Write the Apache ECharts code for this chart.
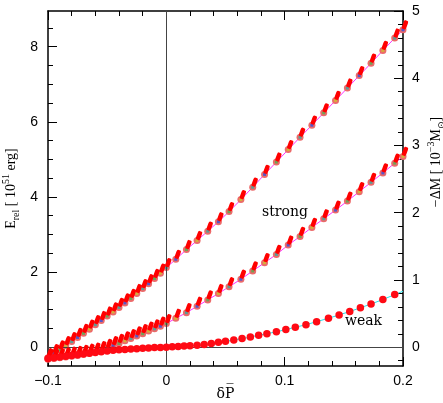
<!DOCTYPE html>
<html>
<head>
<meta charset="utf-8">
<script src="https://cdn.jsdelivr.net/npm/echarts@6/dist/echarts.min.js"></script>
<style>
  html, body { margin: 0; padding: 0; background: #fff; }
  #chart { width: 443px; height: 403px; }
</style>
</head>
<body>
<div id="chart"></div>
<script>
// strong branches: δP̄ positions of the markers
const strongX = [-0.1, -0.095, -0.09, -0.085, -0.08, -0.075, -0.07, -0.065, -0.06, -0.055,
  -0.05, -0.045, -0.04, -0.035, -0.03, -0.025, -0.02, -0.015, -0.01, -0.005,
  0, 0.008, 0.017, 0.026, 0.035, 0.044, 0.053, 0.063, 0.073, 0.083,
  0.093, 0.103, 0.113, 0.123, 0.133, 0.143, 0.153, 0.163, 0.173, 0.183, 0.193, 0.2]
// upper strong branch, E_rel [10^51 erg]
const upperY = [-0.28, -0.17, -0.07, 0.04, 0.15, 0.26, 0.37, 0.48, 0.6, 0.71,
  0.83, 0.94, 1.06, 1.18, 1.3, 1.43, 1.56, 1.69, 1.83, 1.97,
  2.12, 2.34, 2.6, 2.84, 3.09, 3.34, 3.61, 3.93, 4.26, 4.6,
  4.93, 5.26, 5.59, 5.91, 6.24, 6.57, 6.9, 7.23, 7.56, 7.9, 8.23, 8.45]
// lower strong branch
const lowerY = [-0.32, -0.3, -0.28, -0.26, -0.24, -0.22, -0.19, -0.16, -0.13, -0.09,
  -0.03, 0.04, 0.1, 0.17, 0.23, 0.3, 0.36, 0.43, 0.49, 0.56,
  0.63, 0.77, 0.92, 1.09, 1.26, 1.43, 1.61, 1.81, 2.03, 2.25,
  2.47, 2.72, 2.95, 3.19, 3.42, 3.65, 3.89, 4.14, 4.39, 4.64, 4.9, 5.08]
// weak branch (last entry is the end of the line only)
const weakX = [-0.1, -0.095, -0.09, -0.085, -0.08, -0.075, -0.07, -0.065, -0.06, -0.055,
  -0.05, -0.045, -0.04, -0.035, -0.03, -0.025, -0.02, -0.015, -0.01, -0.005,
  0, 0.005, 0.01, 0.015, 0.02, 0.026, 0.032, 0.038, 0.044, 0.05,
  0.057, 0.064, 0.071, 0.078, 0.085, 0.093, 0.101, 0.109, 0.118, 0.127,
  0.137, 0.146, 0.155, 0.164, 0.173, 0.183, 0.193, 0.2]
const weakY = [-0.3, -0.28, -0.26, -0.24, -0.22, -0.2, -0.18, -0.16, -0.14, -0.12,
  -0.1, -0.08, -0.07, -0.06, -0.05, -0.04, -0.03, -0.02, -0.01, -0.01,
  0, 0.01, 0.02, 0.03, 0.04, 0.05, 0.07, 0.1, 0.13, 0.16,
  0.19, 0.23, 0.27, 0.32, 0.36, 0.41, 0.47, 0.53, 0.6, 0.68,
  0.77, 0.86, 0.95, 1.05, 1.15, 1.27, 1.4, 1.49]

// ticks
const xMajor = [-0.1, 0, 0.1, 0.2]
const xMinor = [-0.08, -0.06, -0.04, -0.02, 0.02, 0.04, 0.06, 0.08, 0.12, 0.14, 0.16, 0.18]
const eMajor = [0, 2, 4, 6, 8]
const eMinor = [0.5, 1, 1.5, 2.5, 3, 3.5, 4.5, 5, 5.5, 6.5, 7, 7.5, 8.5]
const mMajor = [0, 1, 2, 3, 4, 5]
const mMinor = [-0.2, 0.2, 0.4, 0.6, 0.8, 1.2, 1.4, 1.6, 1.8, 2.2, 2.4, 2.6, 2.8,
  3.2, 3.4, 3.6, 3.8, 4.2, 4.4, 4.6, 4.8]

const X_MIN = -0.1, X_MAX = 0.2
const E_MIN = -0.5, E_MAX = 8.95
const M_MAX = 5, M_MIN = E_MIN * M_MAX / E_MAX

const pair = (xs, ys) => xs.map((x, i) => [x, ys[i]])
const upper = pair(strongX, upperY)
const lower = pair(strongX, lowerY)
const weak = pair(weakX, weakY)
const strongPts = upper.concat(lower)

const tickFont = { fontFamily: 'Liberation Sans', fontSize: 14, color: '#000' }
const fmt = v => (v < 0 ? '\u2212' + Math.abs(v) : String(v))

// builds one axis carrying either the major (labelled) or minor ticks
const xAx = (pos, ticks, len, labels) => ({
  type: 'value', position: pos, min: X_MIN, max: X_MAX,
  axisLine: { show: labels !== null, onZero: false, lineStyle: { color: '#000', width: 1.5 } },
  axisTick: { inside: true, length: len, customValues: ticks, lineStyle: { color: '#000', width: 1 } },
  axisLabel: labels ? { show: true, customValues: ticks, formatter: fmt, margin: 8, ...tickFont } : { show: false },
  splitLine: { show: false }
})
const yAx = (pos, min, max, ticks, len, labels) => ({
  type: 'value', position: pos, min: min, max: max,
  axisLine: { show: labels !== null, onZero: false, lineStyle: { color: '#000', width: 1.5 } },
  axisTick: { inside: true, length: len, customValues: ticks, lineStyle: { color: '#000', width: 1 } },
  axisLabel: labels ? { show: true, customValues: ticks, formatter: fmt, margin: labels, ...tickFont } : { show: false },
  splitLine: { show: false }
})

const chart = echarts.init(document.getElementById('chart'))

const xAxes = [
  xAx('bottom', xMajor, 9, true),
  xAx('top', xMajor, 9, false),
  xAx('bottom', xMinor, 5, null),
  xAx('top', xMinor, 5, null)
]
xAxes[0].name = '\u03b4P\u0305'
xAxes[0].nameLocation = 'middle'
xAxes[0].nameGap = 21
xAxes[0].nameMoveOverlap = false
xAxes[0].nameTextStyle = { fontFamily: 'DejaVu Serif', fontSize: 14, color: '#000' }

const yAxes = [
  yAx('left', E_MIN, E_MAX, eMajor, 9, 10),
  yAx('right', M_MIN, M_MAX, mMajor, 9, 9),
  yAx('left', E_MIN, E_MAX, eMinor, 5, null),
  yAx('right', M_MIN, M_MAX, mMinor, 5, null)
]
yAxes[0].name = 'E{sub|rel} [ 10{sup|51} erg]'
yAxes[0].nameLocation = 'middle'
yAxes[0].nameGap = 27
yAxes[0].nameMoveOverlap = false
yAxes[0].nameTextStyle = {
  fontFamily: 'Liberation Serif', fontSize: 14, color: '#000', lineHeight: 20,
  rich: {
    sub: { fontFamily: 'Liberation Serif', fontSize: 10, verticalAlign: 'bottom', lineHeight: 12 },
    sup: { fontFamily: 'Liberation Serif', fontSize: 10, verticalAlign: 'top', lineHeight: 12 }
  }
}

const dotSeries = (data, opts) => Object.assign({
  type: 'scatter', data: data, xAxisIndex: 0, yAxisIndex: 0, silent: true, animation: false
}, opts)

chart.setOption({
  animation: false,
  grid: { left: 48, right: 40, top: 11, bottom: 37, containLabel: false, outerBoundsMode: 'none' },
  xAxis: xAxes,
  yAxis: yAxes,
  graphic: [
    {
      type: 'text', x: 262, y: 212,
      style: { text: 'strong', font: '14px "DejaVu Serif"', fill: '#000', verticalAlign: 'middle' }
    },
    {
      type: 'text', x: 345, y: 321,
      style: { text: 'weak', font: '14px "DejaVu Serif"', fill: '#000', verticalAlign: 'middle' }
    },
    {
      type: 'text', x: 436, y: 162, rotation: Math.PI / 2,
      style: {
        text: '\u2212\u0394M [ 10{sup|\u22123}M{sub|\u2299}]',
        fontFamily: 'Liberation Serif', fontSize: 14, fill: '#000',
        align: 'center', verticalAlign: 'middle', lineHeight: 20,
        rich: {
          sup: { fontFamily: 'Liberation Serif', fontSize: 10, verticalAlign: 'top', lineHeight: 12 },
          sub: { fontFamily: 'DejaVu Sans', fontSize: 9, verticalAlign: 'bottom', lineHeight: 12 }
        }
      }
    }
  ],
  series: [
    {
      type: 'line', data: weak, symbol: 'none', z: 1,
      lineStyle: { color: '#22e0e8', width: 1 },
      markLine: {
        silent: true, symbol: 'none', label: { show: false },
        lineStyle: { color: '#444', width: 1, type: 'solid' },
        data: [{ xAxis: 0 }, { yAxis: 0 }]
      }
    },
    { type: 'line', data: upper, symbol: 'none', z: 2, lineStyle: { color: '#ff30ff', width: 1 } },
    { type: 'line', data: lower, symbol: 'none', z: 2, lineStyle: { color: '#ff30ff', width: 1 } },
    // pale circles under each strong marker
    dotSeries(strongPts, { symbolSize: 7, z: 3, itemStyle: { color: '#ec6a6a', opacity: 1 } }),
    // small coloured points inside the circles
    dotSeries(strongPts, {
      symbol: 'rect', symbolSize: 3, z: 4,
      itemStyle: { color: p => ['#3aa8a0', '#3050e0', '#50b050', '#d0c030'][p.dataIndex % 4] }
    }),
    // red smeared points
    dotSeries(strongPts, {
      symbol: 'roundRect', symbolSize: [4.5, 9], symbolRotate: -20, symbolOffset: [2, -5], z: 5,
      itemStyle: { color: '#ff0000', opacity: 1 }
    }),
    dotSeries(weak.slice(0, -1), { symbolSize: 7.5, z: 5, itemStyle: { color: '#ff0a14', opacity: 1 } })
  ]
})
</script>
</body>
</html>
